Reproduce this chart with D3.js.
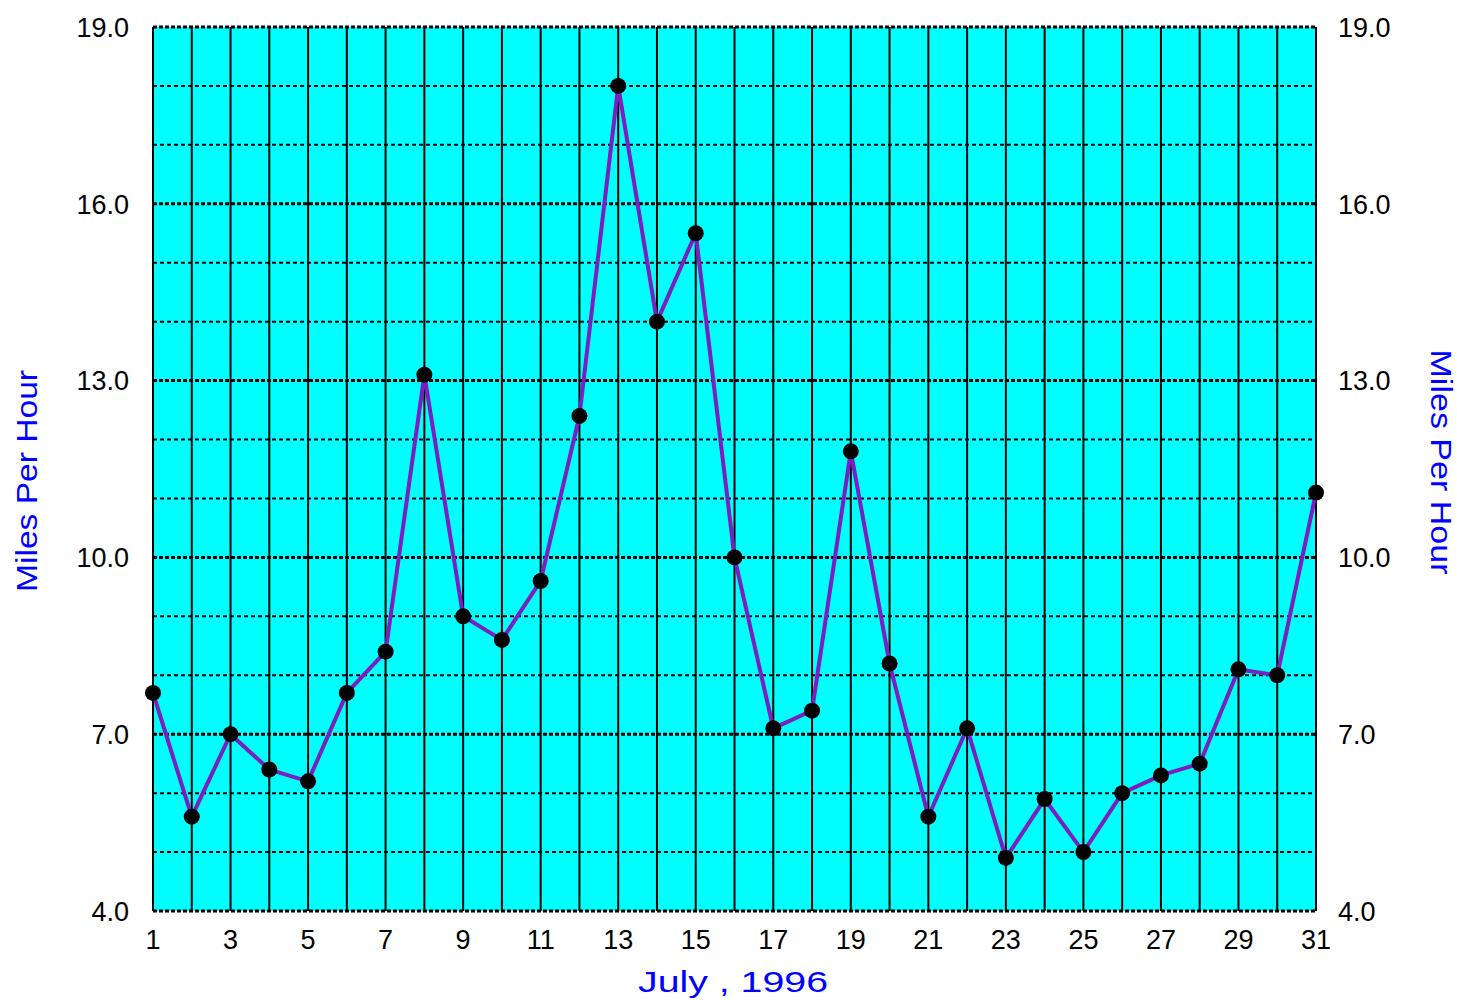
<!DOCTYPE html>
<html>
  <head>
    <meta charset="UTF-8">
    <title>Wind speed, July 1996</title>
  </head>
  <style type="text/css">
    body { margin: 0; background: #fff; }
    text { font-family: "Liberation Sans", Arial, sans-serif; }
    .tick-label { font-size: 27px; fill: #000; }
    .title { font-size: 30px; fill: #0000ff; }
  </style>
  <body>
    <svg width="1457" height="1000"></svg>
  </body>
  <script src="https://d3js.org/d3.v7.min.js"></script>
  <script type="text/javascript">
    const days = d3.range(1, 32);
    const speeds = [7.7, 5.6, 7.0, 6.4, 6.2, 7.7, 8.4, 13.1, 9.0, 8.6,
                    9.6, 12.4, 18.0, 14.0, 15.5, 10.0, 7.1, 7.4, 11.8, 8.2,
                    5.6, 7.1, 4.9, 5.9, 5.0, 6.0, 6.3, 6.5, 8.1, 8.0, 11.1];
    const yTicks = [4, 7, 10, 13, 16, 19];
    const yGrid = d3.range(5, 20);
    const xTicks = days.filter(d => d % 2 === 1);

    let svg = d3.select('svg'),
        plotL = 153, plotR = 1316, plotT = 27, plotB = 911;

    const x = d3.scaleLinear().domain([1, 31]).range([plotL, plotR]);
    const y = d3.scaleLinear().domain([4, 19]).range([plotB, plotT]);

    // background
    svg.append('rect')
        .attr('x', plotL).attr('y', plotT)
        .attr('width', plotR - plotL).attr('height', plotB - plotT)
        .attr('fill', '#00ffff');

    // horizontal dotted grid
    svg.append('g').selectAll('line')
      .data(yGrid)
      .enter().append('line')
        .attr('x1', plotL).attr('x2', plotR)
        .attr('y1', d => y(d)).attr('y2', d => y(d))
        .attr('stroke', '#000')
        .attr('stroke-width', d => (d - 4) % 3 === 0 ? 3 : 2)
        .attr('stroke-dasharray', d => (d - 4) % 3 === 0 ? '4,2' : '4,3');

    // bottom edge dotted
    svg.append('line')
        .attr('x1', plotL).attr('x2', plotR)
        .attr('y1', y(4)).attr('y2', y(4))
        .attr('stroke', '#000').attr('stroke-width', 3)
        .attr('stroke-dasharray', '4,2');

    // vertical day lines
    svg.append('g').selectAll('line')
      .data(days)
      .enter().append('line')
        .attr('x1', d => x(d)).attr('x2', d => x(d))
        .attr('y1', plotT).attr('y2', plotB)
        .attr('stroke', '#000')
        .attr('stroke-width', 2);

    // series line
    const line = d3.line()
      .x((d, i) => x(days[i]))
      .y(d => y(d));

    svg.append('path')
        .datum(speeds)
        .attr('d', line)
        .attr('fill', 'none')
        .attr('stroke', '#7b1fc0')
        .attr('stroke-width', 4);

    svg.append('g').selectAll('circle')
      .data(speeds)
      .enter().append('circle')
        .attr('cx', (d, i) => x(days[i]))
        .attr('cy', d => y(d))
        .attr('r', 8)
        .attr('fill', '#000');

    // y tick labels, both sides
    svg.append('g').selectAll('text')
      .data(yTicks)
      .enter().append('text')
        .attr('class', 'tick-label')
        .attr('x', plotL - 24)
        .attr('y', d => y(d))
        .attr('dy', '0.36em')
        .attr('text-anchor', 'end')
        .text(d => d.toFixed(1));

    svg.append('g').selectAll('text')
      .data(yTicks)
      .enter().append('text')
        .attr('class', 'tick-label')
        .attr('x', plotR + 22)
        .attr('y', d => y(d))
        .attr('dy', '0.36em')
        .attr('text-anchor', 'start')
        .text(d => d.toFixed(1));

    // x tick labels
    svg.append('g').selectAll('text')
      .data(xTicks)
      .enter().append('text')
        .attr('class', 'tick-label')
        .attr('x', d => x(d))
        .attr('y', 949)
        .attr('text-anchor', 'middle')
        .text(d => d);

    // titles
    svg.append('text')
        .attr('class', 'title')
        .attr('x', 733).attr('y', 992)
        .attr('text-anchor', 'middle')
        .attr('textLength', 190)
        .attr('lengthAdjust', 'spacingAndGlyphs')
        .text('July , 1996');

    svg.append('text')
        .attr('class', 'title')
        .attr('transform', 'translate(37,481) rotate(-90)')
        .attr('text-anchor', 'middle')
        .attr('font-size', 27)
        .attr('textLength', 222)
        .attr('lengthAdjust', 'spacingAndGlyphs')
        .text('Miles Per Hour');

    svg.append('text')
        .attr('class', 'title')
        .attr('transform', 'translate(1431,462) rotate(90)')
        .attr('text-anchor', 'middle')
        .attr('font-size', 27)
        .attr('textLength', 225)
        .attr('lengthAdjust', 'spacingAndGlyphs')
        .text('Miles Per Hour');
  </script>
</html>
